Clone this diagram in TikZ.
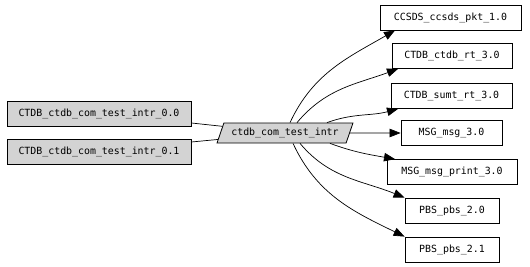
\documentclass[tikz,border=0pt]{standalone}
\usepackage{fontspec}
\setmonofont{DejaVu Sans Mono}
\usetikzlibrary{arrows.meta,shapes.geometric}
\definecolor{nodegray}{HTML}{D3D3D3}

\begin{document}
\begin{tikzpicture}[
  x=1pt,y=1pt,
  font=\ttfamily\fontsize{9.9}{11}\selectfont,
  box/.style={draw,fill=white,inner xsep=0pt,minimum height=25pt,line width=0.8pt},
  inbox/.style={box,fill=nodegray,minimum width=184pt},
  func/.style={draw,fill=nodegray,trapezium,trapezium left angle=70,trapezium right angle=110,
    trapezium stretches=true,minimum width=136pt,minimum height=20pt,inner xsep=0pt,line width=0.8pt},
  link/.style={line width=0.7pt},
  dep/.style={-{Triangle[length=11pt,width=8.5pt]},line width=0.7pt}
]
\useasboundingbox (0,0) rectangle (530,266);
% callers
\node[inbox] (inzero) at (99,152) {CTDB\_ctdb\_com\_test\_intr\_0.0};
\node[inbox] (inone) at (99,114.5) {CTDB\_ctdb\_com\_test\_intr\_0.1};
\node[func] (intr) at (285,133) {ctdb\_com\_test\_intr};
% dependencies
\node[box,minimum width=141pt] (ccsds) at (450.5,248.5) {CCSDS\_ccsds\_pkt\_1.0};
\node[box,minimum width=120pt] (ctdbrt) at (452,210) {CTDB\_ctdb\_rt\_3.0};
\node[box,minimum width=121pt] (sumtrt) at (451.5,170) {CTDB\_sumt\_rt\_3.0};
\node[box,minimum width=101pt] (msg) at (451.5,133) {MSG\_msg\_3.0};
\node[box,minimum width=130pt] (msgprint) at (452,94) {MSG\_msg\_print\_3.0};
\node[box,minimum width=94pt] (pbsa) at (452,55.5) {PBS\_pbs\_2.0};
\node[box,minimum width=94pt] (pbsb) at (452,16.5) {PBS\_pbs\_2.1};
\draw[link] ([yshift=-9pt]inzero.east) -- (intr);
\draw[link] ([yshift=9.5pt]inone.east) -- (intr);
\draw[dep] ([xshift=5pt]intr.north) to[out=65,in=210] ([xshift=-55.5pt]ccsds.south);
\draw[dep] ([xshift=12pt]intr.north) to[out=50,in=200] ([xshift=-54pt]ctdbrt.south);
\draw[dep] ([xshift=42pt]intr.north) to[out=20,in=195] ([xshift=-53.5pt]sumtrt.south);
\draw[dep] (intr.east) -- (msg);
\draw[dep] ([xshift=45pt]intr.south) to[out=-20,in=170] ([xshift=-57pt]msgprint.north);
\draw[dep] ([xshift=15pt]intr.south) to[out=-50,in=158] (pbsa.north west);
\draw[dep] ([xshift=8pt]intr.south) to[out=-65,in=154] (pbsb.north west);
\end{tikzpicture}
\end{document}
